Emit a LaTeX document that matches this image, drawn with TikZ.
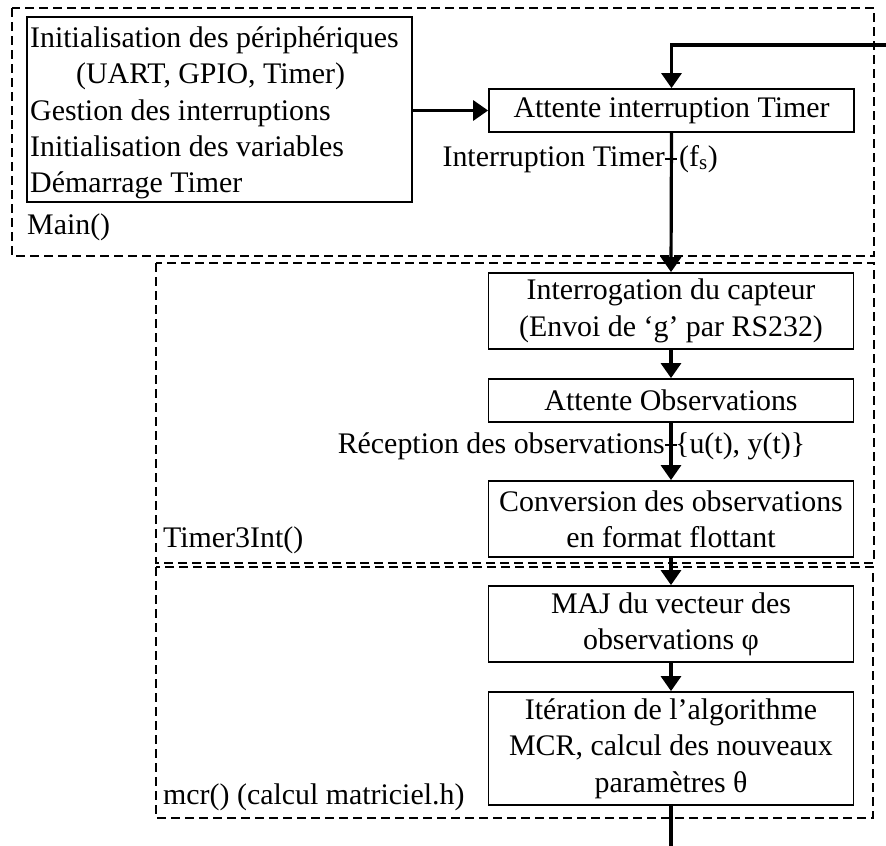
\documentclass[tikz,border=0pt]{standalone}
\usepackage{fontspec}
\setmainfont{Liberation Serif}
\usetikzlibrary{arrows.meta}
\tikzset{
  stepbox/.style={draw, line width=1.8bp, minimum width=365bp, inner sep=0pt, align=center},
  frame/.style={draw, line width=2.8bp, dash pattern=on 9bp off 5bp},
  arr/.style={line width=3.2bp, -{Triangle[length=15bp, width=20bp]}},
  plain/.style={line width=3.2bp},
  tickmark/.style={line width=1.6bp},
  lbl/.style={inner sep=0pt},
}
\begin{document}
\begin{tikzpicture}[x=1bp, y=-1bp, font=\fontsize{30}{36.5}\selectfont]
\useasboundingbox (0,0) rectangle (886,846);
% dashed frames
\draw[frame] (12,8) rectangle (874,256);
\draw[frame] (156,263) rectangle (874,563);
\draw[frame] (156,567) rectangle (873,818);
% init box
\node[draw, line width=1.8bp, minimum width=385bp, minimum height=185bp, inner sep=0pt] (init) at (219.5,109.5) {};
\node[lbl, anchor=north west, align=left] (inittxt) at (30,26.5) {Initialisation des périphériques\\
\hspace*{46bp}(UART, GPIO, Timer)\\
Gestion des interruptions\\
Initialisation des variables\\
Démarrage Timer};
% boxes
\node[stepbox, minimum height=43bp] (att) at (671.5,110.5) {Attente interruption Timer};
\node[stepbox, minimum height=76bp] (interr) at (671,311) {Interrogation du capteur\\(Envoi de ‘g’ par RS232)};
\node[stepbox, minimum height=43bp] (attobs) at (671,400.5) {Attente Observations};
\node[stepbox, minimum height=76bp] (conv) at (671,519) {Conversion des observations\\en format flottant};
\node[stepbox, minimum height=76bp] (maj) at (671,624) {MAJ du vecteur des\\observations φ};
\node[stepbox, minimum height=113bp] (iter) at (671,748.5) {Itération de l’algorithme\\MCR, calcul des nouveaux\\paramètres θ};
% frame labels
\node[lbl, anchor=base west] (mainlbl) at (27,234) {Main()};
\node[lbl, anchor=base west] (timerlbl) at (163,547) {Timer3Int()};
\node[lbl, anchor=base west] (mcrlbl) at (163,804) {mcr() (calcul matriciel.h)};
% signal labels
\node[lbl, anchor=base east] (itlbl) at (665,166) {Interruption Timer};
\node[lbl, anchor=base west] (fslbl) at (679,166) {(f\textsubscript{s})};
\node[lbl, anchor=base east] (reclbl) at (665,453) {Réception des observations};
\node[lbl, anchor=base west] (uylbl) at (675,453) {\{u(t), y(t)\}};
\coordinate (fb) at (886,45);
\coordinate (t1) at (671,159);
\coordinate (t2) at (671,445);
\coordinate (endpt) at (671,846);
% connectors
\draw[arr] (init.east |- att.west) -- (att.west);
\draw[arr] (fb) -| (att.north);
\draw[arr] (att.south) -- (interr.north);
\draw[arr] (interr.south) -- (attobs.north);
\draw[arr] (attobs.south) -- (conv.north);
\draw[arr] (conv.south) -- (maj.north);
\draw[arr] (maj.south) -- (iter.north);
\draw[plain] (iter.south) -- (endpt);
% ticks
\draw[tickmark] (t1) +(-6,0) -- +(6,0);
\draw[tickmark] (t2) +(-6,0) -- +(6,0);
\end{tikzpicture}
\end{document}
